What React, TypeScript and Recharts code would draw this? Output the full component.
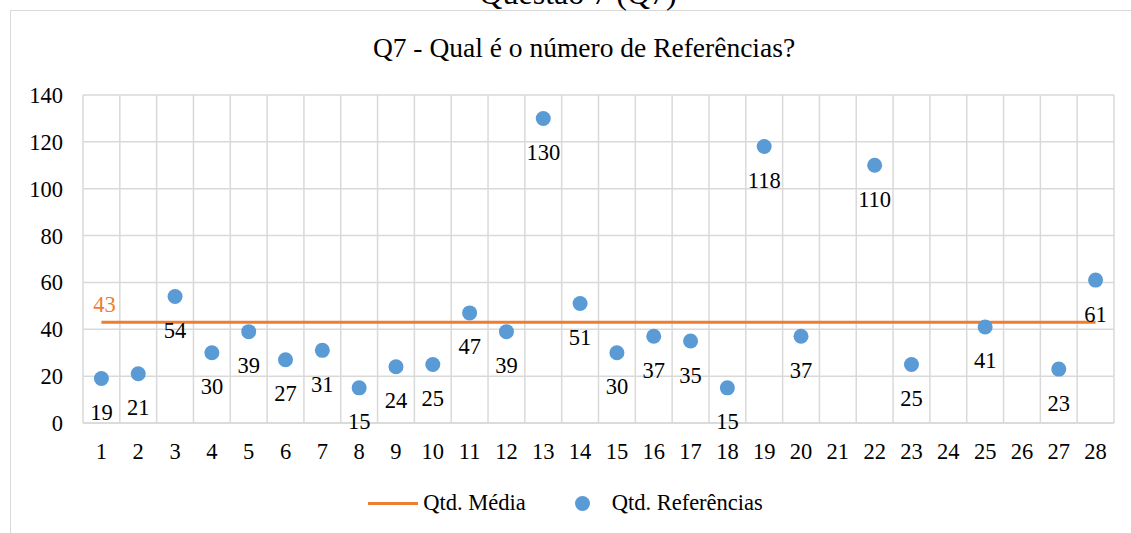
import { CartesianGrid, ComposedChart, LabelList, Line, XAxis, YAxis } from "recharts";

const categories = [1, 2, 3, 4, 5, 6, 7, 8, 9, 10, 11, 12, 13, 14, 15, 16, 17, 18, 19, 20, 21, 22, 23, 24, 25, 26, 27, 28];
const referencias = [19, 21, 54, 30, 39, 27, 31, 15, 24, 25, 47, 39, 130, 51, 30, 37, 35, 15, 118, 37, null, 110, 25, null, 41, null, 23, 61];
const mediaValue = 43;
const yTicks = [0, 20, 40, 60, 80, 100, 120, 140];

const data = categories.map((q, i) => ({ q, media: mediaValue, refs: referencias[i] }));
const gridTicks = [...categories.map((c) => c - 0.5), categories[categories.length - 1] + 0.5];
const xDomain = [gridTicks[0], gridTicks[gridTicks.length - 1]];

const FONT = '"Liberation Serif", "Times New Roman", serif';
const ORANGE = "#ED7D31";
const BLUE = "#5B9BD5";
const GRID = "#d9d9d9";
const FS = 22.5;

function RefLabel(props: any) {
  const { x, y, value } = props;
  if (value == null) return null;
  return (
    <text x={x} y={y + 34} textAnchor="middle" dominantBaseline="central" fontSize={FS} fontFamily={FONT} fill="#000">
      {value}
    </text>
  );
}

function MediaLabel(props: any) {
  const { x, y, value, index } = props;
  if (index !== 0) return null;
  return (
    <text x={x + 3} y={y - 18} textAnchor="middle" dominantBaseline="central" fontSize={FS} fontFamily={FONT} fill={ORANGE}>
      {value}
    </text>
  );
}

function LegendBox() {
  return (
    <div style={{ position: "absolute", left: 0, top: 489, width: 1131, display: "flex", justifyContent: "center", alignItems: "center", fontFamily: FONT, fontSize: FS, lineHeight: "28px", color: "#000" }}>
      <span style={{ display: "inline-block", width: 50, height: 3, background: ORANGE, marginRight: 5 }} />
      <span>Qtd. Média</span>
      <span style={{ display: "inline-block", width: 15, height: 15, borderRadius: "50%", background: BLUE, marginLeft: 49, marginRight: 22 }} />
      <span>Qtd. Referências</span>
    </div>
  );
}

function gridX({ xAxis, offset }: any) {
  if (xAxis && typeof xAxis.scale === "function") return gridTicks.map((t) => xAxis.scale(t));
  return gridTicks.map((t) => offset.left + ((t - xDomain[0]) / (xDomain[1] - xDomain[0])) * offset.width);
}

export default function App() {
  return (
    <div style={{ position: "fixed", left: 0, top: 0, width: 1131, height: 533, overflow: "hidden", background: "#fff" }}>
      <div style={{ position: "absolute", left: 10, top: 10, width: 1200, height: 600, border: `1px solid ${GRID}`, boxSizing: "border-box" }} />
      <div style={{ position: "absolute", left: 0, top: -23, width: 1156, textAlign: "center", fontFamily: FONT, fontSize: 32, lineHeight: "32px" }}>
        Questão 7 (Q7)
      </div>
      <div style={{ position: "absolute", left: 0, top: 32, width: 1168, textAlign: "center", fontFamily: FONT, fontSize: 27.5, lineHeight: "32px" }}>
        Q7 - Qual é o número de Referências?
      </div>
      <div style={{ position: "absolute", left: 0, top: 0 }}>
        <ComposedChart width={1131} height={533} data={data} margin={{ top: 95, right: 17, bottom: 0, left: 0 }}>
          <CartesianGrid stroke={GRID} strokeWidth={1.5} verticalCoordinatesGenerator={gridX} />
          <XAxis
            dataKey="q"
            type="number"
            domain={xDomain}
            ticks={categories}
            interval={0}
            height={110}
            tickSize={0}
            tickMargin={20}
            axisLine={{ stroke: GRID, strokeWidth: 1.5 }}
            tickLine={false}
            tick={{ fontSize: FS, fontFamily: FONT, fill: "#000" }}
          />
          <YAxis
            domain={[0, 140]}
            ticks={yTicks}
            width={83}
            tickSize={0}
            tickMargin={20}
            axisLine={false}
            tickLine={false}
            tick={{ fontSize: FS, fontFamily: FONT, fill: "#000" }}
          />
          <Line dataKey="media" name="Qtd. Média" stroke={ORANGE} strokeWidth={3} dot={false} activeDot={false} isAnimationActive={false}>
            <LabelList dataKey="media" content={<MediaLabel />} />
          </Line>
          <Line
            dataKey="refs"
            name="Qtd. Referências"
            stroke="none"
            dot={{ r: 7.5, fill: BLUE, stroke: "none" }}
            activeDot={false}
            isAnimationActive={false}
          >
            <LabelList dataKey="refs" content={<RefLabel />} />
          </Line>
        </ComposedChart>
      </div>
      <LegendBox />
    </div>
  );
}
